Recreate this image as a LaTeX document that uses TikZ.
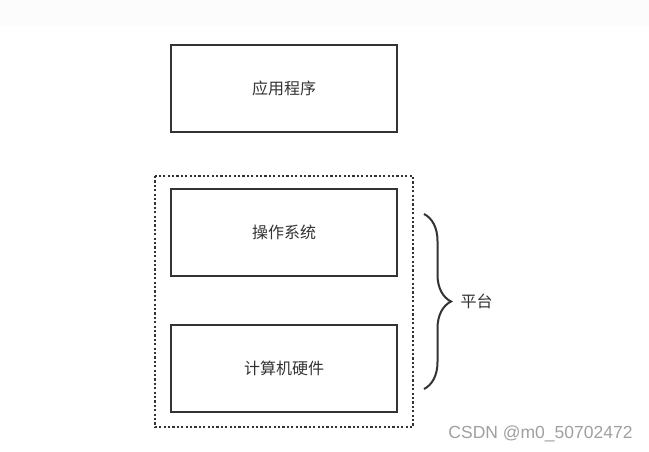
\documentclass[tikz,border=0pt]{standalone}
\usepackage{fontspec}
\newfontfamily\cjk{Noto Sans CJK SC}
\setsansfont{Liberation Sans}
\usetikzlibrary{decorations.pathreplacing}
\definecolor{ink}{HTML}{333333}
\definecolor{wm}{HTML}{A0A0A0}
\tikzset{
  layer/.style={draw=ink, line width=2pt, minimum width=226pt, minimum height=87pt, inner sep=0pt, font=\cjk\fontsize{16}{19}\selectfont, text=ink},
  dotbox/.style={draw=ink, line width=2.4pt, dash pattern=on 2.2pt off 2.2pt},
}
\begin{document}
\begin{tikzpicture}[x=1pt,y=-1pt]
\useasboundingbox (0,0) rectangle (649,452);
\fill[white] (0,0) rectangle (649,452);
\fill[black!1] (0,0) rectangle (649,26);
\node[layer] (app) at (284,88.5) {应用程序};
\node[layer] (os) at (284,232) {操作系统};
\node[layer] (hw) at (284,368) {计算机硬件};
\coordinate (dtl) at (155,176);
\coordinate (dbr) at (413,427);
\draw[dotbox] (dtl) rectangle (dbr);
\coordinate (bt) at (424,214);
\coordinate (bb) at (424,389);
\draw[ink, line width=2pt, decorate, decoration={brace, amplitude=27pt}] (bt) -- (bb);
\node[font=\cjk\fontsize{16}{19}\selectfont, text=ink, anchor=west] (plat) at (457,301) {平台};
\node[font=\sffamily\fontsize{17.5}{20}\selectfont, text=wm] (mark) at (540.5,433.5) {CSDN @m0\_50702472};
\end{tikzpicture}
\end{document}
